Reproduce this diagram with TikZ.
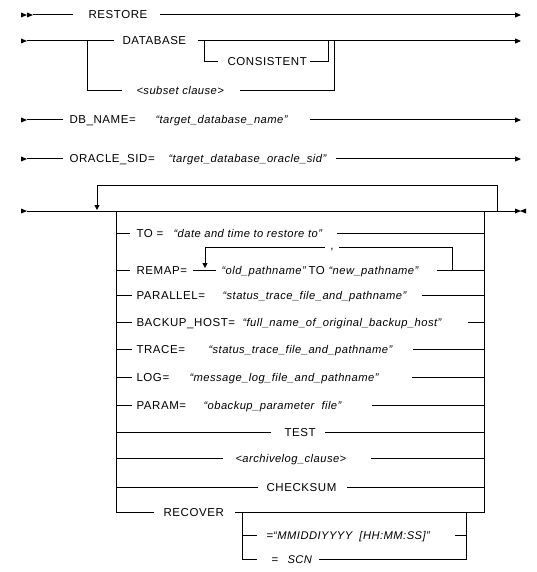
\documentclass[tikz,border=0pt]{standalone}
\usepackage{fontspec}
\setmainfont{Liberation Sans}[LetterSpace=4]
\newfontfamily\kwfam{Liberation Sans}[LetterSpace=5]
\usetikzlibrary{arrows.meta}
\newcommand\kwsize{\fontsize{11.5}{13}\selectfont}
\newcommand\strsize{\fontsize{11.2}{13}\selectfont}
\tikzset{
  rail/.style={line width=1pt},
  kw/.style={inner sep=0pt, anchor=base west, font=\kwfam\kwsize},
  str/.style={inner sep=0pt, anchor=base west, font=\strsize\itshape},
  endarr/.style={-{Triangle[length=6pt,width=5pt]}},
  downarr/.style={-{Triangle[length=5pt,width=5pt]}},
  rtri/.pic={\fill (0,-2.5) -- (6,0) -- (0,2.5) -- cycle;},
  ltri/.pic={\fill (6,-2.5) -- (0,0) -- (6,2.5) -- cycle;}
}
\begin{document}
\begin{tikzpicture}[x=1pt,y=-1pt,rail]
\useasboundingbox (0,0) rectangle (536,572);
% ---------- RESTORE
\pic at (21,15) {rtri}; \pic at (27,15) {rtri};
\coordinate (a1) at (33,15); \coordinate (a2) at (73,15);
\node[kw] (restore) at (88,19) {RESTORE};
\coordinate (a3) at (160,15); \coordinate (a4) at (521,15);
\draw (a1) -- (a2);
\draw[endarr] (a3) -- (a4);
% ---------- DATABASE
\pic at (21,41) {rtri};
\coordinate (b1) at (27,41); \coordinate (b2) at (114,41);
\node[kw] (database) at (122,45) {DATABASE};
\coordinate (b3) at (198,41); \coordinate (b4) at (521,41);
\draw (b1) -- (b2);
\draw[endarr] (b3) -- (b4);
\coordinate (bs1) at (87,41); \coordinate (bs2) at (122,91);
\node[str] (subset) at (136,95) {<subset clause>};
\coordinate (bs3) at (240,91); \coordinate (bs4) at (334,41);
\draw (bs1) |- (bs2);
\draw (bs3) -| (bs4);
\coordinate (bc1) at (204,41); \coordinate (bc2) at (218,62);
\node[kw] (consistent) at (227,66) {CONSISTENT};
\coordinate (bc3) at (310,62); \coordinate (bc4) at (328,41);
\draw (bc1) |- (bc2);
\draw (bc3) -| (bc4);
% ---------- DB_NAME
\pic at (21,120) {rtri};
\coordinate (c1) at (27,120); \coordinate (c2) at (63,120);
\node[kw] (dbname) at (69,124) {DB\_NAME=};
\node[str] (dbnamev) at (155,124) {“target\_database\_name”};
\coordinate (c3) at (310,120); \coordinate (c4) at (521,120);
\draw (c1) -- (c2);
\draw[endarr] (c3) -- (c4);
% ---------- ORACLE_SID
\pic at (21,159) {rtri};
\coordinate (d1) at (27,159); \coordinate (d2) at (63,159);
\node[kw] (sid) at (69,163) {ORACLE\_SID=};
\node[str] (sidv) at (168,163) {“target\_database\_oracle\_sid”};
\coordinate (d3) at (336,159); \coordinate (d4) at (521,159);
\draw (d1) -- (d2);
\draw[endarr] (d3) -- (d4);
% ---------- options main line
\pic at (21,211) {rtri};
\coordinate (m1) at (27,211); \coordinate (m2) at (515,211);
\draw (m1) -- (m2);
\pic at (515,211) {rtri}; \pic at (520,211) {ltri};
\coordinate (l1) at (497,211); \coordinate (ltr) at (497,185);
\coordinate (ltl) at (97,185); \coordinate (lb) at (97,210);
\draw[downarr] (l1) -- (ltr) -- (ltl) -- (lb);
\coordinate (bl0) at (116,211); \coordinate (br0) at (484,211);
% TO
\coordinate (to1) at (116,233); \coordinate (to2) at (130,233);
\node[kw] (to) at (136,237) {TO =};
\node[str] (tov) at (173,237) {“date and time to restore to”};
\coordinate (to3) at (337,233); \coordinate (to4) at (484,233);
\draw (to1) -- (to2); \draw (to3) -- (to4);
% REMAP
\coordinate (rm1) at (116,270); \coordinate (rm2) at (130,270);
\node[kw] (remap) at (136,274) {REMAP=};
\coordinate (rm3) at (193,270); \coordinate (rm4) at (216,270);
\node[str] (oldp) at (221,274) {“old\_pathname”};
\node[kw] (rmto) at (308,274) {TO};
\node[str] (newp) at (328,274) {“new\_pathname”};
\coordinate (rm5) at (437,270); \coordinate (rm6) at (484,270);
\draw (rm1) -- (rm2); \draw (rm3) -- (rm4); \draw (rm5) -- (rm6);
\coordinate (cm1) at (452,270); \coordinate (cm2) at (452,247);
\coordinate (cm3) at (339,247);
\node[kw, anchor=base] (comma) at (332,249) {,};
\coordinate (cm4) at (325,247); \coordinate (cm5) at (205,247);
\coordinate (cm6) at (205,268);
\draw (cm1) -- (cm2) -- (cm3);
\draw[downarr] (cm4) -- (cm5) -- (cm6);
% PARALLEL
\coordinate (pa1) at (116,295); \coordinate (pa2) at (132,295);
\node[kw] (par) at (136,299) {PARALLEL=};
\node[str] (parv) at (222,299) {“status\_trace\_file\_and\_pathname”};
\coordinate (pa3) at (422,295); \coordinate (pa4) at (484,295);
\draw (pa1) -- (pa2); \draw (pa3) -- (pa4);
% BACKUP_HOST
\coordinate (bh1) at (116,322); \coordinate (bh2) at (132,322);
\node[kw] (bh) at (136,326) {BACKUP\_HOST=};
\node[str] (bhv) at (242,326) {“full\_name\_of\_original\_backup\_host”};
\coordinate (bh3) at (468,322); \coordinate (bh4) at (484,322);
\draw (bh1) -- (bh2); \draw (bh3) -- (bh4);
% TRACE
\coordinate (tr1) at (116,349); \coordinate (tr2) at (132,349);
\node[kw] (tr) at (136,353) {TRACE=};
\node[str] (trv) at (208,353) {“status\_trace\_file\_and\_pathname”};
\coordinate (tr3) at (413,349); \coordinate (tr4) at (484,349);
\draw (tr1) -- (tr2); \draw (tr3) -- (tr4);
% LOG
\coordinate (lg1) at (116,377); \coordinate (lg2) at (132,377);
\node[kw] (lg) at (136,381) {LOG=};
\node[str] (lgv) at (189,381) {“message\_log\_file\_and\_pathname”};
\coordinate (lg3) at (412,377); \coordinate (lg4) at (484,377);
\draw (lg1) -- (lg2); \draw (lg3) -- (lg4);
% PARAM
\coordinate (pm1) at (116,405); \coordinate (pm2) at (132,405);
\node[kw] (pm) at (136,409) {PARAM=};
\node[str] (pmv) at (203,409) {“obackup\_parameter\ \ file”};
\coordinate (pm3) at (372,405); \coordinate (pm4) at (484,405);
\draw (pm1) -- (pm2); \draw (pm3) -- (pm4);
% TEST
\coordinate (te1) at (116,432); \coordinate (te2) at (271,432);
\node[kw] (test) at (284,436) {TEST};
\coordinate (te3) at (325,432); \coordinate (te4) at (484,432);
\draw (te1) -- (te2); \draw (te3) -- (te4);
% archivelog
\coordinate (ar1) at (116,458); \coordinate (ar2) at (223,458);
\node[str] (arch) at (235,462) {<archivelog\_clause>};
\coordinate (ar3) at (371,458); \coordinate (ar4) at (484,458);
\draw (ar1) -- (ar2); \draw (ar3) -- (ar4);
% CHECKSUM
\coordinate (ck1) at (116,487); \coordinate (ck2) at (258,487);
\node[kw] (ck) at (266,491) {CHECKSUM};
\coordinate (ck3) at (347,487); \coordinate (ck4) at (484,487);
\draw (ck1) -- (ck2); \draw (ck3) -- (ck4);
% RECOVER
\coordinate (rc1) at (154,512);
\node[kw] (rec) at (163,516) {RECOVER};
\coordinate (rc2) at (235,512);
\draw (bl0) |- (rc1);
\draw (rc2) -| (br0);
\coordinate (sb0) at (242,512); \coordinate (sb1) at (257,559);
\coordinate (mm1) at (242,535); \coordinate (mm2) at (257,535);
\node[kw] (mm) at (266,539) {=\textit{\rmfamily\strsize“MMIDDIYYYY\ \ [HH:MM:SS]”}};
\coordinate (mm3) at (455,535); \coordinate (mm4) at (466,535);
\draw (sb0) |- (sb1);
\draw (mm1) -- (mm2); \draw (mm3) -- (mm4);
\node[kw] (eq) at (271,563) {=};
\node[str] (scn) at (287,563) {SCN};
\coordinate (sc3) at (319,559); \coordinate (sc4) at (466,512);
\draw (sc3) -| (sc4);
\end{tikzpicture}
\end{document}
